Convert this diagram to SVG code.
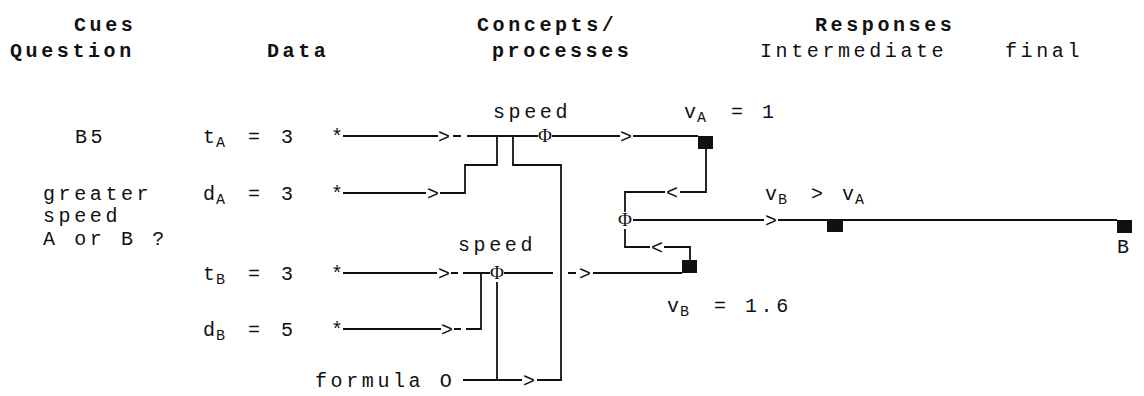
<svg xmlns="http://www.w3.org/2000/svg" width="1144" height="396" viewBox="0 0 1144 396">
<style>
text{font-family:"Liberation Mono","DejaVu Sans Mono",monospace;font-size:20px;letter-spacing:3.6px;fill:#111}
.h{font-weight:bold}
.s{font-size:15px;letter-spacing:0}
.phi{font-family:"Liberation Serif","DejaVu Serif",serif;font-size:19px;letter-spacing:0;text-anchor:middle}
.ar{letter-spacing:0}
.ln{fill:none;stroke:#111;stroke-width:1.8}
.sq{fill:#111}
</style>
<rect width="1144" height="396" fill="#fff"/>
<g id="headers">
<text class="h" x="74" y="31">Cues</text>
<text class="h" x="10" y="57">Question</text>
<text class="h" x="267" y="57">Data</text>
<text class="h" x="477" y="31">Concepts/</text>
<text class="h" x="492" y="57">processes</text>
<text class="h" x="815" y="31">Responses</text>
<text x="760" y="57">Intermediate</text>
<text x="1005" y="57">final</text>
</g>
<g id="question">
<text x="75" y="143">B5</text>
<text x="43" y="200">greater</text>
<text x="43" y="222">speed</text>
<text x="43" y="245">A or B ?</text>
</g>
<g id="data-tA"><text class="ar" x="203" y="143">t</text><text class="s" x="216" y="147">A</text><text x="248" y="143">=</text><text x="281" y="143">3</text><text class="ar" x="331" y="143">*</text></g>
<g id="data-dA"><text class="ar" x="203" y="200">d</text><text class="s" x="216" y="204">A</text><text x="248" y="200">=</text><text x="281" y="200">3</text><text class="ar" x="331" y="200">*</text></g>
<g id="data-tB"><text class="ar" x="203" y="280">t</text><text class="s" x="216" y="284">B</text><text x="248" y="280">=</text><text x="281" y="280">3</text><text class="ar" x="331" y="280">*</text></g>
<g id="data-dB"><text class="ar" x="203" y="336">d</text><text class="s" x="216" y="340">B</text><text x="248" y="336">=</text><text x="281" y="336">5</text><text class="ar" x="331" y="336">*</text></g>
<g id="formula"><text x="315" y="387">formula O</text></g>
<g id="speedA"><text x="493" y="118">speed</text><text class="phi" x="545" y="142">Φ</text></g>
<g id="speedB"><text x="458" y="251">speed</text><text class="phi" x="497" y="279">Φ</text></g>
<g id="compare"><text class="phi" x="625" y="226">Φ</text></g>
<g id="respA"><rect class="sq" x="698" y="136" width="15" height="13"/><text class="ar" x="684" y="118">v</text><text class="s" x="697" y="122">A</text><text x="731" y="118">=</text><text x="762" y="118">1</text></g>
<g id="respB"><rect class="sq" x="682" y="260" width="15" height="13"/><text class="ar" x="667" y="312">v</text><text class="s" x="680" y="316">B</text><text x="714" y="312">=</text><text x="745" y="312">1.6</text></g>
<g id="respMid"><rect class="sq" x="827" y="220" width="16" height="12"/><text class="ar" x="765" y="200">v</text><text class="s" x="778" y="204">B</text><text x="811" y="200">&gt;</text><text class="ar" x="842" y="200">v</text><text class="s" x="855" y="204">A</text></g>
<g id="final"><rect class="sq" x="1117" y="220" width="15" height="13"/><text x="1117" y="253">B</text></g>
<g id="connectors">
<path class="ln" d="M343,136H438M453,136H461M467,136H538M552,136H620M633,136H698"/>
<text class="ar" x="438" y="143">&gt;</text>
<text class="ar" x="620" y="143">&gt;</text>
<path class="ln" d="M343,193H426M440,193H465V165H497V136"/>
<text class="ar" x="427" y="200">&gt;</text>
<path class="ln" d="M513,136V165H561V380H537"/>
<path class="ln" d="M463,380H522"/>
<text class="ar" x="523" y="387">&gt;</text>
<path class="ln" d="M497,282V380"/>
<path class="ln" d="M343,273H437M451,273H458M463,273H490M504,273H553M568,273H576M593,273H682"/>
<text class="ar" x="438" y="280">&gt;</text>
<text class="ar" x="579" y="280">&gt;</text>
<path class="ln" d="M343,329H441M454,329H461M466,329H481V273"/>
<text class="ar" x="441" y="336">&gt;</text>
<path class="ln" d="M706,149V192H680M665,192H625V212"/>
<text class="ar" x="666" y="199">&lt;</text>
<path class="ln" d="M633,220H764M778,220H1117"/>
<text class="ar" x="765" y="227">&gt;</text>
<path class="ln" d="M625,229V247H650M664,247H690V260"/>
<text class="ar" x="651" y="254">&lt;</text>
</g>
</svg>
